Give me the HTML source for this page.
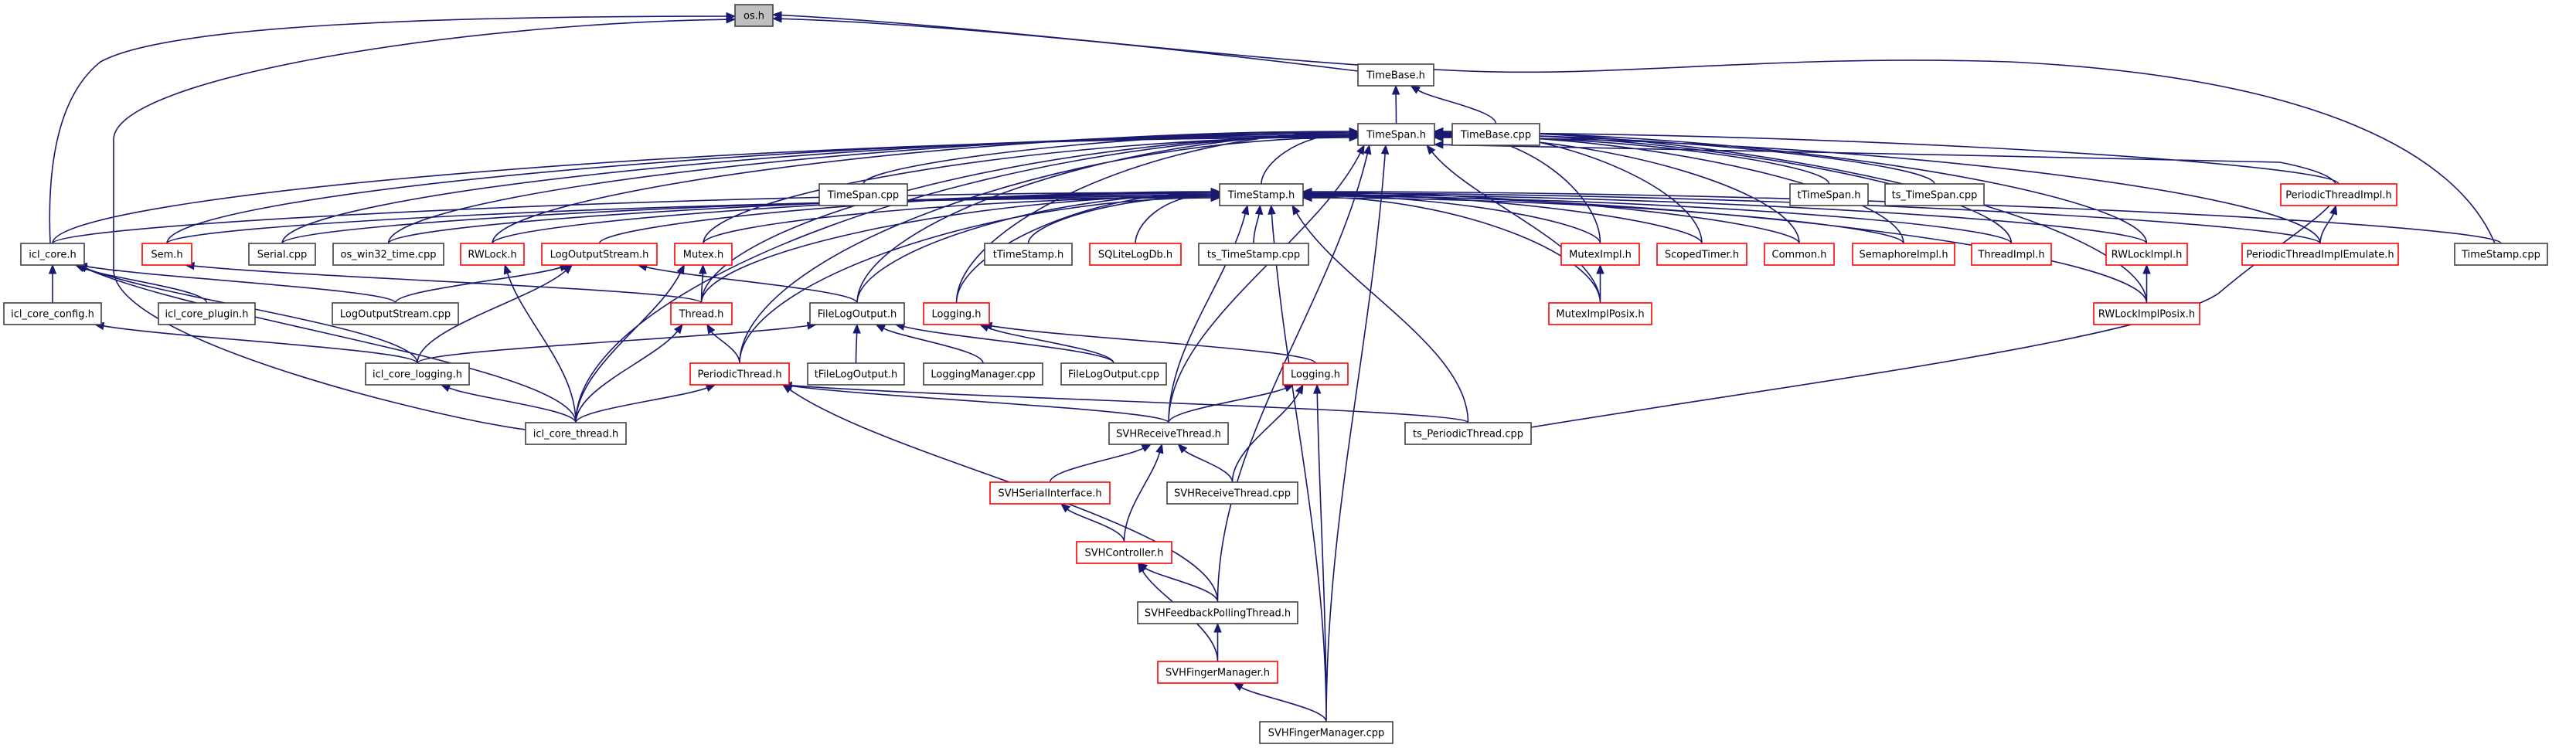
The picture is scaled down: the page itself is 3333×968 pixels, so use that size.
<!DOCTYPE html>
<html><head><meta charset="utf-8"><style>
html,body{margin:0;padding:0;background:#fff;}
svg{display:block;}
text{font-family:"DejaVu Sans","Liberation Sans",sans-serif;font-size:13px;fill:#000;}
</style></head><body>
<svg id="g" xmlns="http://www.w3.org/2000/svg" width="3333" height="968" viewBox="0 0 3333 968">
<g id="edges" fill="none" stroke="#191970" stroke-width="1.6"></g>
<g id="heads" fill="#191970" stroke="#191970" stroke-width="1"></g>
<g id="nodes" stroke-width="1.6">
<rect x="951" y="6" width="49" height="28" fill="#bfbfbf" stroke="#404040"/><text x="975.5" y="24.5" text-anchor="middle">os.h</text>
<rect x="1757" y="83" width="98" height="28" fill="#fff" stroke="#404040"/><text x="1806" y="101.5" text-anchor="middle">TimeBase.h</text>
<rect x="1757" y="160" width="99" height="28" fill="#fff" stroke="#404040"/><text x="1806.5" y="178.5" text-anchor="middle">TimeSpan.h</text>
<rect x="1879" y="160" width="113" height="28" fill="#fff" stroke="#404040"/><text x="1935.5" y="178.5" text-anchor="middle">TimeBase.cpp</text>
<rect x="1060" y="238" width="114" height="28" fill="#fff" stroke="#404040"/><text x="1117" y="256.5" text-anchor="middle">TimeSpan.cpp</text>
<rect x="1578" y="238" width="108" height="28" fill="#fff" stroke="#404040"/><text x="1632" y="256.5" text-anchor="middle">TimeStamp.h</text>
<rect x="2316" y="238" width="101" height="28" fill="#fff" stroke="#404040"/><text x="2366.5" y="256.5" text-anchor="middle">tTimeSpan.h</text>
<rect x="2439" y="238" width="128" height="28" fill="#fff" stroke="#404040"/><text x="2503" y="256.5" text-anchor="middle">ts_TimeSpan.cpp</text>
<rect x="2951" y="238" width="150" height="28" fill="#fff" stroke="#ff0000"/><text x="3026" y="256.5" text-anchor="middle">PeriodicThreadImpl.h</text>
<rect x="27" y="315" width="82" height="28" fill="#fff" stroke="#404040"/><text x="68" y="333.5" text-anchor="middle">icl_core.h</text>
<rect x="184" y="315" width="64" height="28" fill="#fff" stroke="#ff0000"/><text x="216" y="333.5" text-anchor="middle">Sem.h</text>
<rect x="322" y="315" width="86" height="28" fill="#fff" stroke="#404040"/><text x="365" y="333.5" text-anchor="middle">Serial.cpp</text>
<rect x="431" y="315" width="143" height="28" fill="#fff" stroke="#404040"/><text x="502.5" y="333.5" text-anchor="middle">os_win32_time.cpp</text>
<rect x="596" y="315" width="82" height="28" fill="#fff" stroke="#ff0000"/><text x="637" y="333.5" text-anchor="middle">RWLock.h</text>
<rect x="701" y="315" width="149" height="28" fill="#fff" stroke="#ff0000"/><text x="775.5" y="333.5" text-anchor="middle">LogOutputStream.h</text>
<rect x="873" y="315" width="74" height="28" fill="#fff" stroke="#ff0000"/><text x="910" y="333.5" text-anchor="middle">Mutex.h</text>
<rect x="1274" y="315" width="113" height="28" fill="#fff" stroke="#404040"/><text x="1330.5" y="333.5" text-anchor="middle">tTimeStamp.h</text>
<rect x="1410" y="315" width="118" height="28" fill="#fff" stroke="#ff0000"/><text x="1469" y="333.5" text-anchor="middle">SQLiteLogDb.h</text>
<rect x="1551" y="315" width="142" height="28" fill="#fff" stroke="#404040"/><text x="1622" y="333.5" text-anchor="middle">ts_TimeStamp.cpp</text>
<rect x="2020" y="315" width="101" height="28" fill="#fff" stroke="#ff0000"/><text x="2070.5" y="333.5" text-anchor="middle">MutexImpl.h</text>
<rect x="2144" y="315" width="116" height="28" fill="#fff" stroke="#ff0000"/><text x="2202" y="333.5" text-anchor="middle">ScopedTimer.h</text>
<rect x="2283" y="315" width="90" height="28" fill="#fff" stroke="#ff0000"/><text x="2328" y="333.5" text-anchor="middle">Common.h</text>
<rect x="2397" y="315" width="132" height="28" fill="#fff" stroke="#ff0000"/><text x="2463" y="333.5" text-anchor="middle">SemaphoreImpl.h</text>
<rect x="2551" y="315" width="103" height="28" fill="#fff" stroke="#ff0000"/><text x="2602.5" y="333.5" text-anchor="middle">ThreadImpl.h</text>
<rect x="2725" y="315" width="105" height="28" fill="#fff" stroke="#ff0000"/><text x="2777.5" y="333.5" text-anchor="middle">RWLockImpl.h</text>
<rect x="2901" y="315" width="202" height="28" fill="#fff" stroke="#ff0000"/><text x="3002" y="333.5" text-anchor="middle">PeriodicThreadImplEmulate.h</text>
<rect x="3176" y="315" width="120" height="28" fill="#fff" stroke="#404040"/><text x="3236" y="333.5" text-anchor="middle">TimeStamp.cpp</text>
<rect x="5" y="392" width="126" height="28" fill="#fff" stroke="#404040"/><text x="68" y="410.5" text-anchor="middle">icl_core_config.h</text>
<rect x="205" y="392" width="125" height="28" fill="#fff" stroke="#404040"/><text x="267.5" y="410.5" text-anchor="middle">icl_core_plugin.h</text>
<rect x="430" y="392" width="163" height="28" fill="#fff" stroke="#404040"/><text x="511.5" y="410.5" text-anchor="middle">LogOutputStream.cpp</text>
<rect x="868" y="392" width="79" height="28" fill="#fff" stroke="#ff0000"/><text x="907.5" y="410.5" text-anchor="middle">Thread.h</text>
<rect x="1048" y="392" width="122" height="28" fill="#fff" stroke="#404040"/><text x="1109" y="410.5" text-anchor="middle">FileLogOutput.h</text>
<rect x="1195" y="392" width="85" height="28" fill="#fff" stroke="#ff0000"/><text x="1237.5" y="410.5" text-anchor="middle">Logging.h</text>
<rect x="2004" y="392" width="133" height="28" fill="#fff" stroke="#ff0000"/><text x="2070.5" y="410.5" text-anchor="middle">MutexImplPosix.h</text>
<rect x="2709" y="392" width="137" height="28" fill="#fff" stroke="#ff0000"/><text x="2777.5" y="410.5" text-anchor="middle">RWLockImplPosix.h</text>
<rect x="473" y="470" width="134" height="28" fill="#fff" stroke="#404040"/><text x="540" y="488.5" text-anchor="middle">icl_core_logging.h</text>
<rect x="893" y="470" width="128" height="28" fill="#fff" stroke="#ff0000"/><text x="957" y="488.5" text-anchor="middle">PeriodicThread.h</text>
<rect x="1045" y="470" width="125" height="28" fill="#fff" stroke="#404040"/><text x="1107.5" y="488.5" text-anchor="middle">tFileLogOutput.h</text>
<rect x="1195" y="470" width="154" height="28" fill="#fff" stroke="#404040"/><text x="1272" y="488.5" text-anchor="middle">LoggingManager.cpp</text>
<rect x="1373" y="470" width="136" height="28" fill="#fff" stroke="#404040"/><text x="1441" y="488.5" text-anchor="middle">FileLogOutput.cpp</text>
<rect x="1660" y="470" width="84" height="28" fill="#fff" stroke="#ff0000"/><text x="1702" y="488.5" text-anchor="middle">Logging.h</text>
<rect x="680" y="547" width="130" height="28" fill="#fff" stroke="#404040"/><text x="745" y="565.5" text-anchor="middle">icl_core_thread.h</text>
<rect x="1435" y="547" width="154" height="28" fill="#fff" stroke="#404040"/><text x="1512" y="565.5" text-anchor="middle">SVHReceiveThread.h</text>
<rect x="1818" y="547" width="163" height="28" fill="#fff" stroke="#404040"/><text x="1899.5" y="565.5" text-anchor="middle">ts_PeriodicThread.cpp</text>
<rect x="1281" y="624" width="155" height="28" fill="#fff" stroke="#ff0000"/><text x="1358.5" y="642.5" text-anchor="middle">SVHSerialInterface.h</text>
<rect x="1510" y="624" width="169" height="28" fill="#fff" stroke="#404040"/><text x="1594.5" y="642.5" text-anchor="middle">SVHReceiveThread.cpp</text>
<rect x="1393" y="701" width="123" height="28" fill="#fff" stroke="#ff0000"/><text x="1454.5" y="719.5" text-anchor="middle">SVHController.h</text>
<rect x="1472" y="779" width="207" height="28" fill="#fff" stroke="#404040"/><text x="1575.5" y="797.5" text-anchor="middle">SVHFeedbackPollingThread.h</text>
<rect x="1498" y="856" width="155" height="28" fill="#fff" stroke="#ff0000"/><text x="1575.5" y="874.5" text-anchor="middle">SVHFingerManager.h</text>
<rect x="1630" y="934" width="172" height="28" fill="#fff" stroke="#404040"/><text x="1716" y="952.5" text-anchor="middle">SVHFingerManager.cpp</text>
</g>
</svg>
<script>
(function(){
var N={};
var rs=document.querySelectorAll('#nodes rect');
var ts=document.querySelectorAll('#nodes text');
for(var i=0;i<rs.length;i++){var r=rs[i];var k=ts[i].textContent;if(N[k])k=k+'2';
N[k]={x:+r.getAttribute('x'),y:+r.getAttribute('y'),w:+r.getAttribute('width'),h:28};}
var E=[
['TimeSpan.h','TimeBase.h'],['TimeBase.cpp','TimeBase.h'],
['TimeStamp.h','TimeSpan.h'],['TimeSpan.cpp','TimeSpan.h'],['icl_core.h','TimeSpan.h'],['Sem.h','TimeSpan.h'],['Serial.cpp','TimeSpan.h'],['os_win32_time.cpp','TimeSpan.h'],['RWLock.h','TimeSpan.h'],['Mutex.h','TimeSpan.h'],['icl_core_thread.h','TimeSpan.h'],['FileLogOutput.h','TimeSpan.h'],['Logging.h','TimeSpan.h'],['PeriodicThread.h','TimeSpan.h'],['SVHReceiveThread.h','TimeSpan.h'],['SVHFeedbackPollingThread.h','TimeSpan.h'],['MutexImpl.h','TimeSpan.h'],['ScopedTimer.h','TimeSpan.h'],['Common.h','TimeSpan.h'],['SemaphoreImpl.h','TimeSpan.h'],['ThreadImpl.h','TimeSpan.h'],['RWLockImpl.h','TimeSpan.h'],['PeriodicThreadImplEmulate.h','TimeSpan.h'],['tTimeSpan.h','TimeSpan.h'],['ts_TimeSpan.cpp','TimeSpan.h'],['PeriodicThreadImpl.h','TimeSpan.h'],['RWLockImplPosix.h','TimeSpan.h'],['MutexImplPosix.h','TimeSpan.h'],['Thread.h','TimeSpan.h'],['SVHFingerManager.cpp','TimeSpan.h'],
['icl_core.h','TimeStamp.h'],['Sem.h','TimeStamp.h'],['Serial.cpp','TimeStamp.h'],['os_win32_time.cpp','TimeStamp.h'],['RWLock.h','TimeStamp.h'],['LogOutputStream.h','TimeStamp.h'],['Mutex.h','TimeStamp.h'],['Thread.h','TimeStamp.h'],['FileLogOutput.h','TimeStamp.h'],['Logging.h','TimeStamp.h'],['PeriodicThread.h','TimeStamp.h'],['tTimeStamp.h','TimeStamp.h'],['SQLiteLogDb.h','TimeStamp.h'],['ts_TimeStamp.cpp','TimeStamp.h'],['SVHFingerManager.cpp','TimeStamp.h'],['ts_PeriodicThread.cpp','TimeStamp.h'],['MutexImpl.h','TimeStamp.h'],['ScopedTimer.h','TimeStamp.h'],['Common.h','TimeStamp.h'],['SemaphoreImpl.h','TimeStamp.h'],['ThreadImpl.h','TimeStamp.h'],['RWLockImpl.h','TimeStamp.h'],['PeriodicThreadImplEmulate.h','TimeStamp.h'],['TimeStamp.cpp','TimeStamp.h'],['MutexImplPosix.h','TimeStamp.h'],['RWLockImplPosix.h','TimeStamp.h'],['SVHReceiveThread.h','TimeStamp.h'],
['icl_core_config.h','icl_core.h'],['icl_core_plugin.h','icl_core.h'],['LogOutputStream.cpp','icl_core.h'],['icl_core_logging.h','icl_core.h'],['icl_core_thread.h','icl_core.h'],
['icl_core_logging.h','icl_core_config.h'],['Thread.h','Sem.h'],['icl_core_thread.h','RWLock.h'],
['LogOutputStream.cpp','LogOutputStream.h'],['icl_core_logging.h','LogOutputStream.h'],['FileLogOutput.h','LogOutputStream.h'],
['Thread.h','Mutex.h'],['icl_core_thread.h','Mutex.h'],['PeriodicThread.h','Thread.h'],['icl_core_thread.h','Thread.h'],
['icl_core_thread.h','PeriodicThread.h'],['ts_PeriodicThread.cpp','PeriodicThread.h'],['SVHReceiveThread.h','PeriodicThread.h'],['SVHFeedbackPollingThread.h','PeriodicThread.h'],
['icl_core_thread.h','icl_core_logging.h'],
['tFileLogOutput.h','FileLogOutput.h'],['LoggingManager.cpp','FileLogOutput.h'],['FileLogOutput.cpp','FileLogOutput.h'],['icl_core_logging.h','FileLogOutput.h'],
['Logging.h2','Logging.h'],['FileLogOutput.cpp','Logging.h'],
['SVHReceiveThread.h','Logging.h2'],['SVHReceiveThread.cpp','Logging.h2'],['SVHFingerManager.cpp','Logging.h2'],
['SVHSerialInterface.h','SVHReceiveThread.h'],['SVHController.h','SVHReceiveThread.h'],['SVHReceiveThread.cpp','SVHReceiveThread.h'],
['SVHController.h','SVHSerialInterface.h'],['SVHFeedbackPollingThread.h','SVHController.h'],['SVHFingerManager.h','SVHController.h'],
['SVHFingerManager.h','SVHFeedbackPollingThread.h'],['SVHFingerManager.cpp','SVHFingerManager.h'],
['MutexImplPosix.h','MutexImpl.h'],['RWLockImplPosix.h','RWLockImpl.h'],['PeriodicThreadImplEmulate.h','PeriodicThreadImpl.h']
];
// custom routed edges: arrays of points: start, then triples of control/control/end
var C=[
[65,315, 60,200, 80,120, 130,80, 220,30, 600,21, 951,21],
[680,556, 560,540, 150,440, 147,350, 147,300, 147,230, 147,180, 150,100, 600,30, 951,25],
[1757,92, 1500,60, 1200,30, 1000,24],
[3228,315, 3180,200, 3000,100, 2600,80, 2300,70, 2100,100, 1900,92, 1600,80, 1300,35, 1000,19],
[1981,553, 2300,500, 2780,440, 2870,380, 3000,270, 3100,240, 2950,210, 2600,200, 2100,195, 1856,187]
];
var hubs={'os.h':1,'TimeSpan.h':1,'TimeStamp.h':1};
var ep='',hp='';
function head(tx,ty,c2x,c2y){
 var ax=tx-c2x,ay=ty-c2y,L=Math.sqrt(ax*ax+ay*ay)||1;ax/=L;ay/=L;
 var bx=tx-ax*11,by=ty-ay*11;
 hp+='M'+tx.toFixed(1)+','+ty.toFixed(1)+'L'+(bx-ay*4.5).toFixed(1)+','+(by+ax*4.5).toFixed(1)+'L'+(bx+ay*4.5).toFixed(1)+','+(by-ax*4.5).toFixed(1)+'Z';
 return [bx,by];
}
var cnt=0;
E.forEach(function(e){
 var s=N[e[0]],t=N[e[1]];if(!s||!t)return;
 var scx=s.x+s.w/2,tcx=t.x+t.w/2;
 var sx=scx,sy=s.y,tx,ty,c1x,c1y,c2x,c2y;
 var dy=sy-(t.y+28);
 cnt++;
 if(dy<0){
   if(scx<tcx){sx=s.x+s.w;tx=t.x;}else{sx=s.x;tx=t.x+t.w;}
   sy=s.y+14;ty=t.y+14;c1x=(sx+tx)/2;c1y=sy;c2x=(sx+tx)/2;c2y=ty;
 } else {
 var dx=scx-tcx;
 if(hubs[e[1]] && Math.abs(dx)>dy*1.3+t.w/2){
   if(dx<0){tx=t.x;}else{tx=t.x+t.w;}
   ty=t.y+14+((cnt*7)%9-4);
   sx=scx;c1x=sx;c1y=sy-dy*0.5;c2x=tx+(dx<0?-1:1)*Math.abs(dx)*0.45;c2y=ty;
 } else {
   tx=Math.max(t.x+8,Math.min(t.x+t.w-8,tcx+dx*0.15));ty=t.y+28;
   c1x=sx;c1y=sy-dy*0.35;c2x=tx+(sx-tx)*0.25;c2y=ty+dy*0.35;
 }}
 var b=head(tx,ty,c2x,c2y);
 ep+='M'+sx.toFixed(1)+','+sy.toFixed(1)+'C'+c1x.toFixed(1)+','+c1y.toFixed(1)+' '+c2x.toFixed(1)+','+c2y.toFixed(1)+' '+b[0].toFixed(1)+','+b[1].toFixed(1);
});
C.forEach(function(p){
 var n=p.length;var tx=p[n-2],ty=p[n-1],c2x=p[n-4],c2y=p[n-3];
 var b=head(tx,ty,c2x,c2y);
 var d='M'+p[0]+','+p[1];
 for(var i=2;i<n;i+=6){
   var ex=p[i+4],ey=p[i+5];
   if(i+6>=n){ex=b[0];ey=b[1];}
   d+='C'+p[i]+','+p[i+1]+' '+p[i+2]+','+p[i+3]+' '+ex+','+ey;
 }
 ep+=d;
});
var ns='http://www.w3.org/2000/svg';
var p=document.createElementNS(ns,'path');p.setAttribute('d',ep);document.getElementById('edges').appendChild(p);
var q=document.createElementNS(ns,'path');q.setAttribute('d',hp);document.getElementById('heads').appendChild(q);
})();
</script>
</body></html>
